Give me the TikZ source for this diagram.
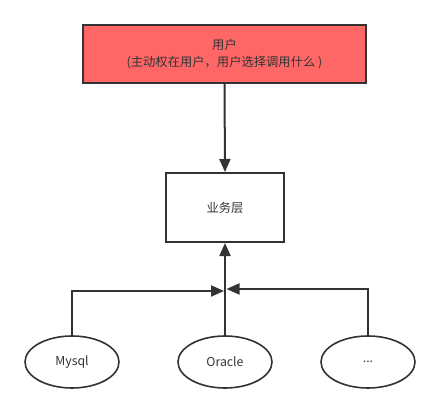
\documentclass[tikz,border=0pt]{standalone}
\usepackage{fontspec}
\setmainfont{Noto Sans CJK SC}
\usetikzlibrary{arrows.meta,shapes.geometric}
\definecolor{ln}{HTML}{333333}
\definecolor{tx}{HTML}{333333}
\definecolor{redfill}{HTML}{FF6666}
\tikzset{
  every node/.style={font=\fontsize{12.3pt}{17pt}\selectfont, text=tx},
  boxstyle/.style={draw=ln, line width=2pt, rectangle, inner sep=0pt, align=center},
  dbstyle/.style={draw=ln, line width=1.6pt, ellipse, minimum width=94pt, minimum height=52pt, inner sep=0pt},
  conn/.style={draw=ln, line width=2pt, -{Triangle[length=13pt,width=11pt]}},
}
\begin{document}
\begin{tikzpicture}[x=1pt,y=1pt]
\useasboundingbox (0,0) rectangle (441,-414);
\node[boxstyle, fill=redfill, minimum width=283pt, minimum height=58pt] (user) at (224.5,-54) {用户\\(主动权在用户，用户选择调用什么 )};
\node[boxstyle, minimum width=118pt, minimum height=69pt] (biz) at (225,-207.5) {业务层};
\node[dbstyle] (mysql) at (72,-362) {Mysql};
\node[dbstyle] (oracle) at (225,-362) {Oracle};
\node[dbstyle] (etc) at (368,-362) {...};
\coordinate (jl) at (224,-291);
\coordinate (jr) at (226.5,-289);
\draw[conn] (user.south) -- (biz.north);
\draw[conn] (oracle.north) -- (biz.south);
\draw[conn] (mysql.north) |- (jl);
\draw[conn] (etc.north) |- (jr);
\end{tikzpicture}
\end{document}
